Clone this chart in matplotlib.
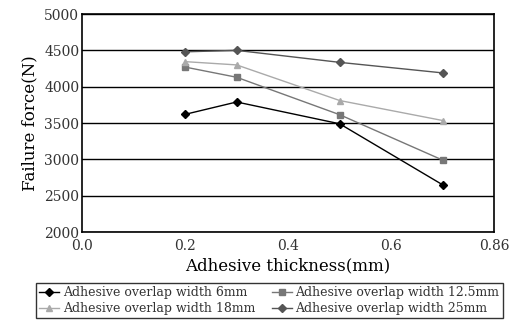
import matplotlib
matplotlib.use("Agg")
import matplotlib.pyplot as plt

# Adhesive thickness (mm) and failure force (N) per overlap width
thickness = [0.2, 0.3, 0.5, 0.7]
force_6mm = [3620, 3790, 3490, 2650]
force_12_5mm = [4270, 4130, 3615, 2990]
force_18mm = [4345, 4300, 3810, 3535]
force_25mm = [4480, 4500, 4335, 4190]

x_ticks = [0.0, 0.2, 0.4, 0.6, 0.8]
x_tick_labels = ["0.0", "0.2", "0.4", "0.6", "0.86"]
y_ticks = [2000, 2500, 3000, 3500, 4000, 4500, 5000]

plt.rcParams["font.family"] = ["DejaVu Serif"]

fig = plt.figure(figsize=(5.23, 3.26), dpi=100)
ax = fig.add_axes([0.157, 0.288, 0.788, 0.669])

series = [
    ("Adhesive overlap width 6mm", force_6mm, "#000000", "D", 4),
    ("Adhesive overlap width 12.5mm", force_12_5mm, "#777777", "s", 4),
    ("Adhesive overlap width 18mm", force_18mm, "#aaaaaa", "^", 5),
    ("Adhesive overlap width 25mm", force_25mm, "#555555", "D", 4),
]
lines = []
for label, vals, col, mk, ms in series:
    ln, = ax.plot(thickness, vals, color=col, marker=mk, markersize=ms,
                  linewidth=1.0, label=label)
    lines.append(ln)

ax.set_xlim(0, 0.8)
ax.set_ylim(2000, 5000)
ax.set_xticks(x_ticks)
ax.set_xticklabels(x_tick_labels)
ax.set_yticks(y_ticks)
ax.tick_params(length=0, labelsize=10, colors="#333333")
ax.tick_params(axis="x", pad=5)
ax.tick_params(axis="y", pad=2)
ax.yaxis.grid(True, color="#000000", linewidth=1.0)
ax.set_axisbelow(True)
for sp in ax.spines.values():
    sp.set_linewidth(1.2)

ax.set_xlabel("Adhesive thickness(mm)", fontsize=12, labelpad=3)
ax.set_ylabel("Failure force(N)", fontsize=12, labelpad=4)

# legend fills row by row: 6mm, 12.5mm / 18mm, 25mm
order = [0, 2, 1, 3]
leg = fig.legend([lines[i] for i in order], [series[i][0] for i in order],
                 loc="lower center", bbox_to_anchor=(0.515, 0.005), ncol=2,
                 fontsize=9, frameon=True, fancybox=False, handlelength=1.6,
                 handletextpad=0.3, columnspacing=1.3, borderpad=0.25,
                 labelspacing=0.2, edgecolor="#000000", numpoints=1)
leg.get_frame().set_linewidth(1.0)
for t in leg.get_texts():
    t.set_color("#333333")

fig.savefig("out.png", dpi=100)
